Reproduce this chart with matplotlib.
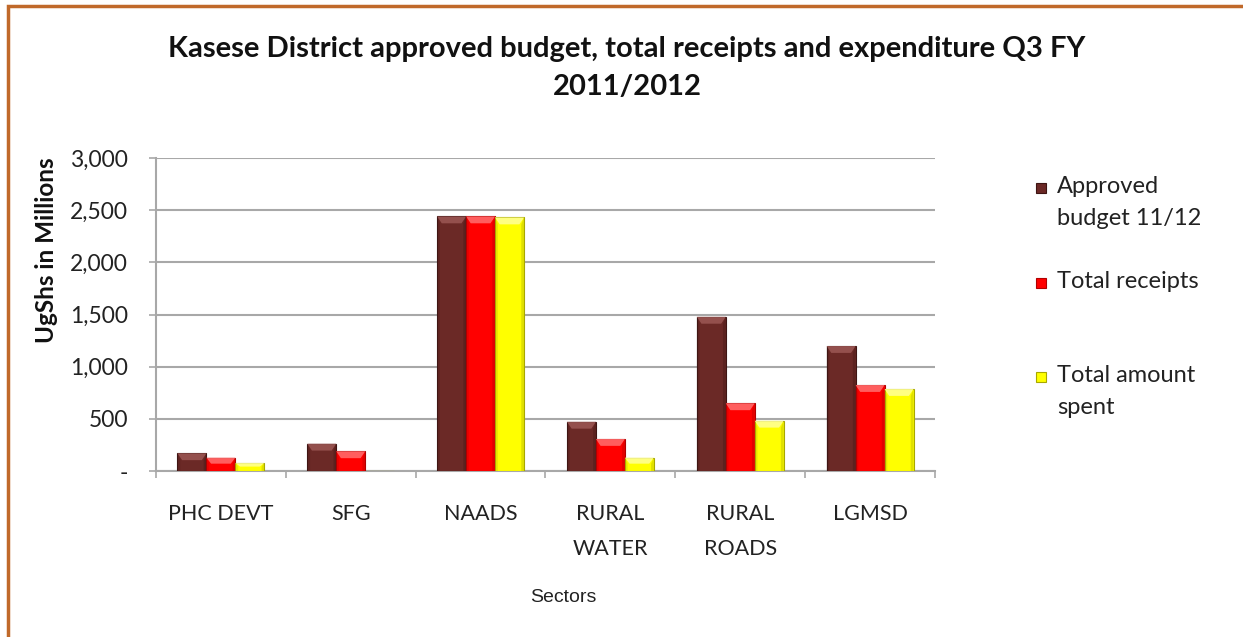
import matplotlib
matplotlib.use("Agg")
import matplotlib.pyplot as plt
from matplotlib.patches import Polygon, Rectangle
from matplotlib.ticker import FuncFormatter, FixedLocator
import numpy as np

# Sector budget figures, UgShs millions
sectors = ["PHC DEVT", "SFG", "NAADS", "RURAL\nWATER", "RURAL\nROADS", "LGMSD"]
approved_budget = [170, 262, 2440, 472, 1478, 1198]
total_receipts = [128, 189, 2440, 307, 649, 824]
amount_spent = [77, 0, 2430, 128, 482, 786]

series_names = [["Approved", "budget 11/12"], ["Total receipts"], ["Total amount", "spent"]]
series_values = [approved_budget, total_receipts, amount_spent]
face_colors = ["#6B2926", "#FF0000", "#FFFF00"]
edge_colors = ["#3E1513", "#B00000", "#A8A800"]
bevel_colors = ["#9C5855", "#FF7070", "#FFFF9A"]

FONT = ["Lato", "DejaVu Sans"]
W, H = 1243, 637


def fx(px):
    return px / W


def fy(py):
    return 1 - py / H


fig = plt.figure(figsize=(W / 100, H / 100), dpi=100)
fig.patch.set_facecolor("white")

# Frame around the chart area
fig.patches.append(Rectangle((fx(8), -0.05), 1.2, fy(6) + 0.05,
                             transform=fig.transFigure, fill=False,
                             edgecolor="#C0692A", linewidth=2.5, zorder=0))

ax = fig.add_axes([fx(156), fy(471), (935 - 156) / W, (471 - 158) / H])

x = np.arange(len(sectors))
bar_w = 0.223
offsets = [-bar_w, 0, bar_w]
ymax = 3000
ax.set_ylim(0, ymax)
ax.set_xlim(-0.5, len(sectors) - 0.5)

bevel_h = 0.022 * ymax
for vals, off, fc, ec, bc in zip(series_values, offsets, face_colors, edge_colors, bevel_colors):
    bars = ax.bar(x + off, vals, width=bar_w, color=fc, edgecolor=ec,
                  linewidth=0.8, zorder=3)
    for r in bars:
        h = r.get_height()
        if h <= 0:
            continue
        x0 = r.get_x()
        x1 = x0 + r.get_width()
        bh = min(bevel_h, h * 0.45)
        inset = r.get_width() * 0.16
        ax.add_patch(Polygon([(x0, h), (x1, h), (x1 - inset, h - bh), (x0 + inset, h - bh)],
                             closed=True, facecolor=bc, edgecolor="none", alpha=0.85, zorder=4))
        ax.add_patch(Polygon([(x0, 0), (x0, h), (x0 + inset * 0.6, h - bh), (x0 + inset * 0.6, 0)],
                             closed=True, facecolor=ec, edgecolor="none", alpha=0.25, zorder=4))
        ax.add_patch(Polygon([(x1, 0), (x1, h), (x1 - inset * 0.6, h - bh), (x1 - inset * 0.6, 0)],
                             closed=True, facecolor=ec, edgecolor="none", alpha=0.35, zorder=4))

# Gridlines and axes styling
ax.set_yticks(np.arange(0, ymax + 1, 500))
ax.yaxis.grid(True, color="#A8A8A8", linewidth=1.5, zorder=0)
ax.set_axisbelow(True)
for s in ["top", "right"]:
    ax.spines[s].set_visible(False)
for s in ["left", "bottom"]:
    ax.spines[s].set_color("#A8A8A8")
    ax.spines[s].set_linewidth(1.5)

ax.yaxis.set_major_formatter(FuncFormatter(lambda v, p: "-" if v == 0 else f"{int(v):,}"))
ax.tick_params(axis="y", length=5, width=1.2, color="#A8A8A8", pad=15,
               labelsize=16.5, labelcolor="#222222")
for lab in ax.get_yticklabels():
    lab.set_fontfamily(FONT)

ax.set_xticks(x)
ax.set_xticklabels(sectors, fontsize=15.5, color="#222222", linespacing=1.9)
for lab in ax.get_xticklabels():
    lab.set_fontfamily(FONT)
ax.tick_params(axis="x", which="major", length=0, pad=24)
ax.xaxis.set_minor_locator(FixedLocator(np.arange(-0.5, len(sectors), 1.0)))
ax.tick_params(axis="x", which="minor", length=5, width=1.2, color="#A8A8A8")

ax.set_ylabel("UgShs in Millions", fontsize=17.5, fontweight="bold",
              family=FONT, color="#111111")
ax.yaxis.set_label_coords((58 - 156) / (935 - 156), (471 - 250) / (471 - 158))

fig.text(fx(563), fy(597), "Sectors", ha="center", va="center",
         fontsize=14, family=["Liberation Sans", "DejaVu Sans"], color="#222222")

title_lines = ["Kasese District approved budget, total receipts and expenditure Q3 FY",
               "2011/2012"]
for line, base in zip(title_lines, [57, 95]):
    fig.text(fx(627), fy(base), line, ha="center", va="baseline", fontsize=21,
             fontweight="bold", family=FONT, color="#111111")

# Legend drawn beside the plot
legend_baselines = [193, 288, 382]
for lines, fc, ec, base in zip(series_names, face_colors, edge_colors, legend_baselines):
    fig.patches.append(Rectangle((fx(1036), fy(base)), 10 / W, 10 / H,
                                 transform=fig.transFigure, facecolor=fc,
                                 edgecolor=ec, linewidth=0.8))
    for i, line in enumerate(lines):
        fig.text(fx(1057), fy(base + 32 * i), line, ha="left", va="baseline",
                 fontsize=17, family=FONT, color="#222222")

fig.savefig("out.png", dpi=100, facecolor="white")
